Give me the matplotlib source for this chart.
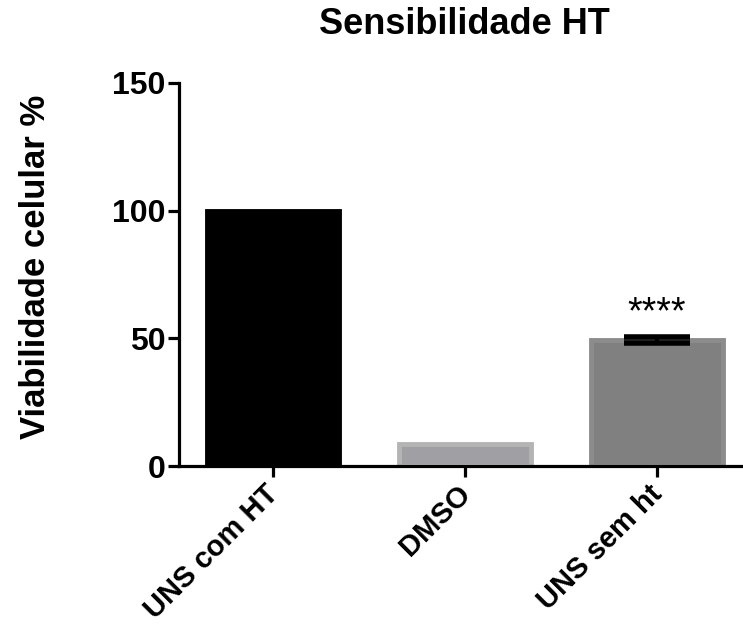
import matplotlib.pyplot as plt
from matplotlib.transforms import ScaledTranslation

plt.rcParams['font.family'] = ['Liberation Sans', 'DejaVu Sans']

categories = ["UNS com HT", "DMSO", "UNS sem ht"]
values = [100, 8.5, 49.3]
errors = [0, 0, 1.2]
fills = ["#000000", "#a0a0a4", "#808080"]
edges = ["#000000", "#b4b4b4", "#8c8c8c"]

fig = plt.figure(figsize=(7.43, 6.24), dpi=100)
ax = fig.add_axes([0.241, 0.253, 0.759, 0.614])

x = range(len(categories))
ax.bar(x, values, width=0.69, color=fills, edgecolor=edges, linewidth=3.5, zorder=2)
eb = ax.errorbar([2], [values[2]], yerr=[errors[2]], fmt='none', ecolor='black',
                 elinewidth=3, capsize=24, capthick=4, zorder=3)
for c in eb[1]:
    c.set_solid_capstyle('round')
ax.text(2, 60, "****", ha='center', va='center', fontsize=27)

ax.set_xlim(-0.49, 2.45)
ax.set_ylim(0, 150)
ax.set_yticks([0, 50, 100, 150])
ax.set_xticks(list(x))
ax.set_xticklabels(categories, rotation=45, ha='right', rotation_mode='anchor',
                   fontsize=21, fontweight='bold')
for lab in ax.get_yticklabels():
    lab.set_fontsize(23)
    lab.set_fontweight('bold')

for s in ['top', 'right']:
    ax.spines[s].set_visible(False)
for s in ['left', 'bottom']:
    ax.spines[s].set_linewidth(2.3)
ax.tick_params(width=2.3, length=8, direction='out', pad=2)

# nudge the rotated labels a bit left, like the original
shift = ScaledTranslation(-6 / 72, 0, fig.dpi_scale_trans)
for lab in ax.get_xticklabels():
    lab.set_transform(lab.get_transform() + shift)

ax.set_ylabel("Viabilidade celular %", fontsize=25, fontweight='bold')
ax.yaxis.set_label_coords(-0.225, 0.52)
fig.text(0.625, 0.961, "Sensibilidade HT", ha='center', va='center',
         fontsize=26, fontweight='bold')

plt.savefig('out.png', dpi=100)
